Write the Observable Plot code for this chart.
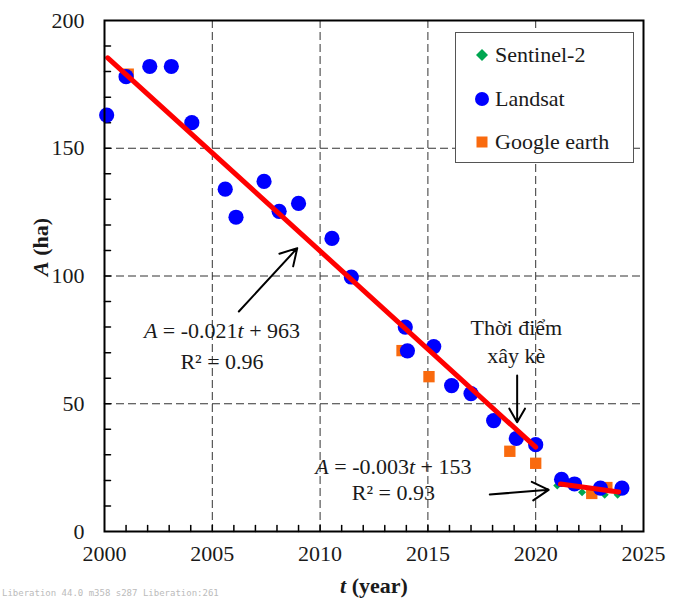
<!DOCTYPE html>
<html><head><meta charset="utf-8">
<script src="https://cdn.jsdelivr.net/npm/d3@7"></script>
<script src="https://cdn.jsdelivr.net/npm/@observablehq/plot@0.6"></script>
</head><body style="margin:0;background:#fff;">
<div id="wrap" style="position:relative;width:684px;height:607px;"></div>
<script>
// Landsat observations
const landsatYear = [2000.1, 2001.0, 2002.1, 2003.1, 2004.05, 2005.6, 2006.1, 2007.4, 2008.1, 2009.0, 2010.55, 2011.45, 2013.95, 2014.05, 2015.27, 2016.1, 2017.0, 2018.05, 2019.1, 2020.0, 2021.2, 2021.8, 2023.0, 2024.0];
const landsatArea = [163, 178, 182, 182, 160, 134, 123, 137, 125.3, 128.4, 114.7, 99.6, 80, 70.7, 72.4, 57.1, 54, 43.4, 36.4, 34, 20.4, 18.6, 17, 17];
// Google earth observations
const googleYear = [2001.1, 2013.8, 2015.05, 2018.8, 2020.0, 2022.6, 2023.3];
const googleArea = [179, 70.8, 60.6, 31.4, 26.7, 14.9, 17.2];
// Sentinel-2 observations
const sentinelYear = [2021.0, 2022.15, 2023.2, 2023.8];
const sentinelArea = [18, 15.4, 14.4, 14.4];
// Fitted trend lines (end points)
const fit1Year = [2000.15, 2020.0];
const fit1Area = [185.4, 33];
const fit2Year = [2021.15, 2023.85];
const fit2Area = [18.6, 15.5];
// Ticks
const xMajor = [2000, 2005, 2010, 2015, 2020, 2025];
const xGrid = [2005, 2010, 2015, 2020];
const xMinor = d3.range(2001, 2025);
const yMajor = [0, 50, 100, 150, 200];
const yGrid = [50, 100, 150];
const yMinor = d3.range(10, 200, 10);
// Annotations (anchor in data units)
const annoText = ["*A* = -0.021*t* + 963", "R² = 0.96", "Thời điểm", "xây kè", "*A* = -0.003*t* + 153", "R² = 0.93"];
const annoX = [2005.45, 2005.45, 2019.1, 2019.1, 2013.4, 2013.4];
const annoY = [78.3, 66.3, 79.5, 68.9, 25.4, 14.9];
const arrowX1 = [2006.23, 2019.14, 2017.87];
const arrowY1 = [86.1, 61.1, 14.5];
const arrowX2 = [2008.94, 2019.14, 2020.6];
const arrowY2 = [110.9, 42.8, 16.3];
const seriesNames = ["Sentinel-2", "Landsat", "Google earth"];

(function () {
  // pick the first serif family that really resolves
  const cands = ["Liberation Serif", "Times New Roman", "Tinos", "Nimbus Roman", "FreeSerif", "Noto Serif", "DejaVu Serif"];
  const cv = document.createElement("canvas").getContext("2d");
  const sample = "2000 Google earth Thời điểm";
  const w = f => { cv.font = f; return cv.measureText(sample).width; };
  const mono = w("22px monospace"), sans = w("22px sans-serif");
  let FF = "serif";
  const log = [];
  for (const f of cands) {
    const a = w(`22px "${f}", monospace`), b = w(`22px "${f}", sans-serif`);
    log.push(f.split(" ")[0] + ":" + a.toFixed(0));
    if (Math.abs(a - mono) > 0.5 && Math.abs(b - sans) > 0.5) { FF = f; break; }
  }

  const pts = (xs, ys) => xs.map((x, i) => ({x, y: ys[i]}));
  const landsatPts = pts(landsatYear, landsatArea);
  const googlePts = pts(googleYear, googleArea);
  const sentinelPts = pts(sentinelYear, sentinelArea);
  const fitA = pts(fit1Year, fit1Area);
  const fitB = pts(fit2Year, fit2Area);
  const annos = annoText.map((text, i) => ({text, x: annoX[i], y: annoY[i]}));
  const arrs = arrowX1.map((x1, i) => ({x1, y1: arrowY1[i], x2: arrowX2[i], y2: arrowY2[i]}));

  const tickShape = {draw(context, l) { context.moveTo(0, 0); context.lineTo(0, -l); }};
  const gridStyle = {stroke: "#333", strokeOpacity: 1, strokeWidth: 1, strokeDasharray: "8,4"};

  const svg = Plot.plot({
    width: 684, height: 607,
    marginLeft: 104, marginRight: 41, marginTop: 20, marginBottom: 76,
    x: {domain: [2000, 2025]},
    y: {domain: [0, 200]},
    style: {fontFamily: `"${FF}", serif`, fontSize: "22px", color: "#1a1a1a", background: "white"},
    marks: [
      Plot.gridX(xGrid, gridStyle),
      Plot.gridY(yGrid, gridStyle),
      Plot.axisX(xMajor, {tickSize: 0, tickPadding: 14, tickFormat: d => String(d), fontSize: 22, label: null}),
      Plot.axisY(yMajor, {tickSize: 0, tickPadding: 20, tickFormat: d => String(d), fontSize: 22, label: null}),
      Plot.vector(xMinor, {x: d => d, y: () => 0, length: 6, anchor: "start", shape: tickShape, stroke: "black", strokeWidth: 1.5}),
      Plot.vector(yMinor, {x: () => 2000, y: d => d, length: 6, rotate: 90, anchor: "start", shape: tickShape, stroke: "black", strokeWidth: 1.5}),
      Plot.dot(sentinelPts, {x: "x", y: "y", symbol: "diamond2", r: 3.6, fill: "#00A651", stroke: null}),
      Plot.dot(googlePts, {x: "x", y: "y", symbol: "square", r: 6.4, fill: "#F96A0E", stroke: null}),
      Plot.dot(landsatPts, {x: "x", y: "y", symbol: "circle", r: 7.6, fill: "#0000FF", stroke: null}),
      Plot.line(fitA, {x: "x", y: "y", stroke: "#FF0000", strokeWidth: 5}),
      Plot.line(fitB, {x: "x", y: "y", stroke: "#FF0000", strokeWidth: 5}),
      Plot.arrow(arrs, {x1: "x1", y1: "y1", x2: "x2", y2: "y2", stroke: "black", strokeWidth: 2, headLength: 14}),
      Plot.text(annos, {x: "x", y: "y", text: "text", fontSize: 22, fill: "#1a1a1a"}),
      Plot.text(["*t* (year)"], {frameAnchor: "bottom", dy: 61, fontSize: 22, fontWeight: "bold", fill: "#1a1a1a"}),
      Plot.text(["*A* (ha)"], {frameAnchor: "left", dx: -64, rotate: -90, fontSize: 22, fontWeight: "bold", fill: "#1a1a1a"}),
      Plot.frame({stroke: "black", strokeWidth: 2})
    ]
  });

  d3.select(svg).selectAll("text").style("font-family", `"${FF}", serif`).each(function () {
    const t = this.textContent;
    if (!t.includes("*")) return;
    const parts = t.split("*");
    const sel = d3.select(this);
    sel.selectAll("*").remove();
    sel.text(null);
    parts.forEach((p, i) => { if (p) sel.append("tspan").attr("font-style", i % 2 ? "italic" : null).text(p); });
  });

  const host = document.getElementById("wrap");
  host.appendChild(svg);

  const symbols = ["diamond", "circle", "square"];
  const colors = ["#00A651", "#0000FF", "#F96A0E"];
  const box = document.createElement("div");
  Object.assign(box.style, {position: "absolute", left: "455px", top: "32px", width: "179px", height: "131px", background: "#fff", border: "1px solid #555", boxSizing: "border-box", fontSize: "22px", color: "#1a1a1a", fontFamily: `"${FF}", serif`});
  seriesNames.forEach((name, i) => {
    const row = document.createElement("div");
    Object.assign(row.style, {position: "absolute", left: "0px", top: (10 + i * 43.5) + "px", height: "24px", lineHeight: "24px", whiteSpace: "nowrap"});
    let shape = "";
    if (symbols[i] === "diamond") shape = `<polygon points="10,4 16,10 10,16 4,10" fill="${colors[i]}"/>`;
    if (symbols[i] === "circle") shape = `<circle cx="10" cy="10" r="7" fill="${colors[i]}"/>`;
    if (symbols[i] === "square") shape = `<rect x="4.5" y="4.5" width="11" height="11" fill="${colors[i]}"/>`;
    row.innerHTML = `<svg width="20" height="20" style="position:absolute;left:16px;top:2px">${shape}</svg><span style="position:absolute;left:39px;top:0">${name}</span>`;
    box.appendChild(row);
  });
  host.appendChild(box);

  const tl = svg.querySelector("g[aria-label='x-axis tick label'] text");
  const diag = document.createElement("div");
  Object.assign(diag.style, {position: "absolute", left: "2px", top: "588px", fontSize: "9px", color: "#bbb", fontFamily: "monospace"});
  diag.textContent = FF.split(" ")[0] + " " + (tl ? tl.getComputedTextLength().toFixed(1) : "?") + " m" + mono.toFixed(0) + " s" + sans.toFixed(0) + " " + log.join(" ");
  host.appendChild(diag);
})();
</script>
</body></html>
